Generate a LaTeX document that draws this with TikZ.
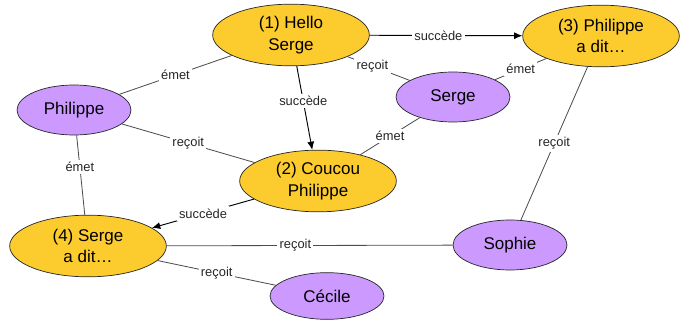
\documentclass[tikz,border=0pt]{standalone}
\usepackage{fontspec}
\setmainfont{Liberation Sans}
\usetikzlibrary{shapes.geometric,arrows.meta}
\definecolor{msgyellow}{HTML}{FCCB2E}
\definecolor{perspurple}{HTML}{CC99FF}

\begin{document}
\begin{tikzpicture}[x=0.03cm,y=-0.03cm,
    msg/.style={ellipse,draw=black!85,line width=0.6pt,fill=msgyellow,minimum width=4.7cm,minimum height=1.85cm,inner sep=0pt,align=center,font=\fontsize{14.5}{18.5}\selectfont},
    pers/.style={ellipse,draw=black!85,line width=0.6pt,fill=perspurple,minimum width=3.42cm,minimum height=1.5cm,inner sep=0pt,font=\fontsize{14.5}{18.5}\selectfont},
    lbl/.style={fill=white,inner sep=2pt,font=\fontsize{11}{13}\selectfont,text=black!85},
    link/.style={draw=black!70,line width=0.7pt},
    next/.style={draw=black,line width=0.8pt,-{Latex[length=7pt,width=6pt]}}]
  \useasboundingbox (0,0) rectangle (681,320);
  \path
  (291,35) node[msg](hello) {(1) Hello\\Serge}
  (601,36) node[msg](phdit) {(3) Philippe\\a dit…}
  (318,181) node[msg](coucou) {(2) Coucou\\Philippe}
  (88,246) node[msg](sgdit) {(4) Serge\\a dit…}
  (74,110) node[pers](philippe) {Philippe}
  (453,97) node[pers](serge) {Serge}
  (510,245) node[pers](sophie) {Sophie}
  (327,296) node[pers,minimum height=1.4cm](cecile) {Cécile}
  ;

  \draw[next] (hello) -- node[lbl,pos=0.45] {succède} (phdit);
  \draw[next] (hello) -- node[lbl,pos=0.42] {succède} (coucou);
  \draw[next] (coucou) -- node[lbl] {succède} (sgdit);
  \draw[link] (philippe) -- node[lbl] {émet} (hello);
  \draw[link] (philippe) -- node[lbl] {reçoit} (coucou);
  \draw[link] (philippe) -- node[lbl,pos=0.4] {émet} (sgdit);
  \draw[link] (hello) -- node[lbl,pos=0.4] {reçoit} (serge);
  \draw[link] (serge) -- node[lbl] {émet} (phdit);
  \draw[link] (serge) -- node[lbl] {émet} (coucou);
  \draw[link] (phdit) -- node[lbl] {reçoit} (sophie);
  \draw[link] (sgdit) -- node[lbl,pos=0.45] {reçoit} (sophie);
  \draw[link] (sgdit) -- node[lbl] {reçoit} (cecile);
\end{tikzpicture}
\end{document}
